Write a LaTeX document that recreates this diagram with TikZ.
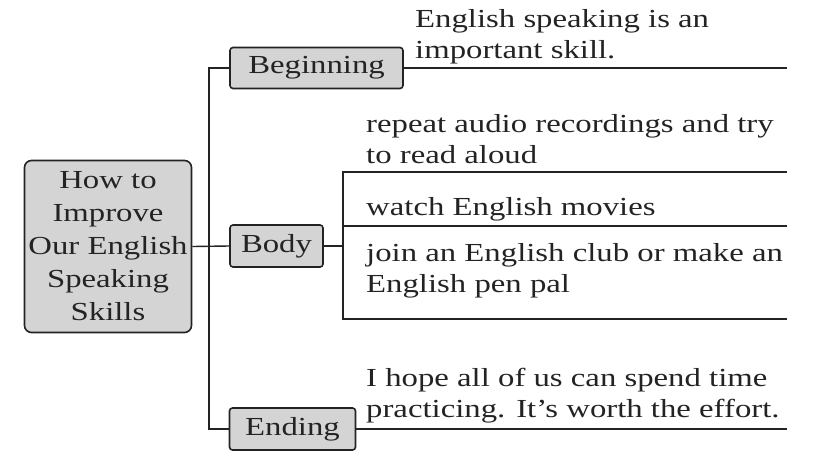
\documentclass[tikz,border=0pt]{standalone}
\usepackage{fontspec}
\setmainfont{Liberation Serif}[FakeStretch=1.26]
\usepackage{xcolor}
\usetikzlibrary{positioning, calc}
\definecolor{boxgray}{RGB}{212,212,212}
\definecolor{inkgray}{RGB}{35,35,35}

\begin{document}
\begin{tikzpicture}[
    x=1pt, y=-1pt,
    topic/.style={rectangle, draw=inkgray, line width=1.6pt, rounded corners=7pt, fill=boxgray, text=inkgray, align=center, inner sep=0pt, font=\fontsize{26}{33}\selectfont},
    part/.style={topic, rounded corners=3pt},
    note/.style={anchor=base west, inner sep=0pt, align=left, text=inkgray, font=\fontsize{26}{31}\selectfont},
    line/.style={draw=inkgray, line width=1.4pt}
]
\useasboundingbox (0,0) rectangle (823,461);

% Topic
\node[topic, minimum width=167pt, minimum height=172pt] (topic) at (108,246.5) {How to\\Improve\\Our English\\Speaking\\Skills};

% Parts
\node[part, minimum width=173pt, minimum height=41pt] (beginning) at (316.5,68) {Beginning};
\node[part, minimum width=93pt, minimum height=42pt] (body) at (276.5,246) {Body};
\node[part, minimum width=126pt, minimum height=42pt] (ending) at (292.5,429) {Ending};

\coordinate (trunk) at ($(topic.east)!0.45!(body.west)$);
\draw[line] (beginning.west) -| (trunk) |- (ending.west);
\draw[line] (topic.east) -- (body.west);

% Writing lines
\coordinate (rim) at (787,0);
\coordinate (r1) at (787,172);
\coordinate (r2) at (787,226);
\coordinate (r3) at (787,319);
\coordinate (fork) at ($(body.east)+(19,0)$);

\draw[line] (beginning.east) -- (beginning.east -| rim);
\draw[line] (body.east) -- (fork);
\draw[line] (r1) -| (fork) |- (r3);
\draw[line] (fork |- r2) -- (r2);
\draw[line] (ending.east) -- (ending.east -| rim);

% Notes (base is the last line)
\node[note] (opening) at (415,58) {English speaking is an\\important skill.};
\node[note] (repeat) at (366,163) {repeat audio recordings and try\\to read aloud};
\node[note] (movies) at (366,215) {watch English movies};
\node[note] (club) at (366,292) {join an English club or make an\\English pen pal};
\node[note] (closing) at (366,417) {I hope all of us can spend time\\practicing. It's worth the effort.};

\end{tikzpicture}
\end{document}
